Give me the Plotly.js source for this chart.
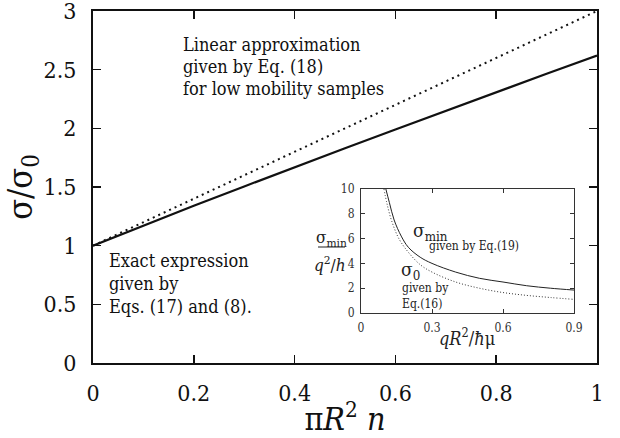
<!DOCTYPE html>
<html>
<head>
<meta charset="utf-8">
<script src="https://cdn.plot.ly/plotly-3.0.1.min.js"></script>
<style>html,body{margin:0;padding:0;background:#fff;}#chart{width:620px;height:438px;}</style>
</head>
<body>
<div id="chart"></div>
<script>
// ---- main panel data ----
const mainX = [0, 0.1, 0.2, 0.3, 0.4, 0.5, 0.6, 0.7, 0.8, 0.9, 1.0];
const exactY = [1, 1.172, 1.34, 1.505, 1.67, 1.83, 1.99, 2.15, 2.31, 2.465, 2.62];
const linearX = [0, 1];
const linearY = [1, 3];
const mainXTicks = [0, 0.2, 0.4, 0.6, 0.8, 1];
const mainXTickText = ['0', '0.2', '0.4', '0.6', '0.8', '1'];
const mainYTicks = [0, 0.5, 1, 1.5, 2, 2.5, 3];
const mainYTickText = ['0', '0.5', '1', '1.5', '2', '2.5', '3'];

// ---- inset data ----
const sigmaMinX = [0.105, 0.12, 0.14, 0.17, 0.2, 0.25, 0.3, 0.4, 0.5, 0.6, 0.7, 0.8, 0.9];
const sigmaMinY = [10, 8.9, 7.5, 6.2, 5.3, 4.5, 4.0, 3.3, 2.8, 2.5, 2.2, 2.0, 1.85];
const sigma0X = [0.097, 0.11, 0.13, 0.16, 0.2, 0.25, 0.3, 0.4, 0.5, 0.6, 0.7, 0.8, 0.9];
const sigma0Y = [10, 8.8, 7.4, 6.0, 4.9, 3.9, 3.3, 2.5, 2.0, 1.65, 1.42, 1.25, 1.1];
const insetXTicks = [0, 0.3, 0.6, 0.9];
const insetXTickText = ['0', '0.3', '0.6', '0.9'];
const insetYTicks = [0, 2, 4, 6, 8, 10];
const insetYTickText = ['0', '2', '4', '6', '8', '10'];

// ---- text ----
const linearLabel = ['Linear approximation', 'given by Eq. (18)', 'for low mobility samples'];
const exactLabel = ['Exact expression', 'given by', 'Eqs. (17) and (8).'];

const W = 620, H = 438;
const L = 93, R = 597, T = 11, B = 363;
const px = x => (x - L) / (R - L);
const py = y => (B - y) / (B - T);
const serif = 'DejaVu Serif Condensed';

const traces = [
  {x: linearX, y: linearY, mode: 'lines', line: {color: '#111', width: 2, dash: '2px,4px'}, xaxis: 'x', yaxis: 'y', hoverinfo: 'skip'},
  {x: mainX, y: exactY, mode: 'lines', line: {color: '#111', width: 2.2}, xaxis: 'x', yaxis: 'y', hoverinfo: 'skip'},
  {x: sigmaMinX, y: sigmaMinY, mode: 'lines', line: {color: '#222', width: 1, shape: 'spline'}, xaxis: 'x2', yaxis: 'y2', hoverinfo: 'skip'},
  {x: sigma0X, y: sigma0Y, mode: 'lines', line: {color: '#333', width: 1, dash: '1px,2px', shape: 'spline'}, xaxis: 'x2', yaxis: 'y2', hoverinfo: 'skip'}
];

const annotations = [];
linearLabel.forEach((t, i) => annotations.push({
  text: t, xref: 'paper', yref: 'paper', x: px(181), y: py(45 + 22 * i),
  xanchor: 'left', yanchor: 'middle', showarrow: false, font: {family: serif, size: 18, color: '#111'}
}));
exactLabel.forEach((t, i) => annotations.push({
  text: t, xref: 'paper', yref: 'paper', x: px(107), y: py(260 + 23 * i),
  xanchor: 'left', yanchor: 'middle', showarrow: false, font: {family: serif, size: 18, color: '#111'}
}));
// inset labels
annotations.push({text: 'σ<sub>min</sub>', xref: 'paper', yref: 'paper', x: px(411), y: py(231), xanchor: 'left', yanchor: 'middle', showarrow: false, font: {family: serif, size: 19, color: '#222'}});
annotations.push({text: 'given by Eq.(19)', xref: 'paper', yref: 'paper', x: px(427), y: py(246), xanchor: 'left', yanchor: 'middle', showarrow: false, font: {family: serif, size: 12, color: '#222'}});
annotations.push({text: 'σ<sub>0</sub>', xref: 'paper', yref: 'paper', x: px(399), y: py(270), xanchor: 'left', yanchor: 'middle', showarrow: false, font: {family: serif, size: 19, color: '#222'}});
annotations.push({text: 'given by', xref: 'paper', yref: 'paper', x: px(400), y: py(288), xanchor: 'left', yanchor: 'middle', showarrow: false, font: {family: serif, size: 12, color: '#222'}});
annotations.push({text: 'Eq.(16)', xref: 'paper', yref: 'paper', x: px(400), y: py(304), xanchor: 'left', yanchor: 'middle', showarrow: false, font: {family: serif, size: 12, color: '#222'}});
// inset y title (fraction)
annotations.push({text: 'σ<sub>min</sub>', xref: 'paper', yref: 'paper', x: px(331), y: py(238), xanchor: 'center', yanchor: 'middle', showarrow: false, font: {family: serif, size: 17, color: '#222'}});
annotations.push({text: '<i>q</i><sup>2</sup>/<i>h</i>', xref: 'paper', yref: 'paper', x: px(330), y: py(264), xanchor: 'center', yanchor: 'middle', showarrow: false, font: {family: serif, size: 17, color: '#222'}});
// inset x title
annotations.push({text: '<i>qR</i><sup>2</sup>/<i>ħ</i>μ', xref: 'paper', yref: 'paper', x: px(467), y: py(337), xanchor: 'center', yanchor: 'middle', showarrow: false, font: {family: serif, size: 18, color: '#222'}});

const shapes = [
  {type: 'line', xref: 'paper', yref: 'paper', x0: px(318), x1: px(345), y0: py(247), y1: py(247), line: {color: '#222', width: 1}}
];

const layout = {
  width: W, height: H,
  margin: {l: L, r: W - R, t: T, b: H - B, pad: 0},
  paper_bgcolor: '#fff', plot_bgcolor: 'rgba(0,0,0,0)',
  showlegend: false,
  font: {family: serif, color: '#111'},
  xaxis: {
    domain: [0, 1], range: [0, 1], tickvals: mainXTicks, ticktext: mainXTickText,
    showline: true, mirror: 'ticks', linecolor: '#111', linewidth: 2,
    ticks: 'inside', ticklen: 8, tickwidth: 1.5, tickcolor: '#111',
    showgrid: false, zeroline: false, ticklabelstandoff: 8, ticklabeloverflow: 'allow',
    tickfont: {family: serif, size: 23, color: '#111'},
    title: {text: 'π<i>R</i><sup>2</sup> <i>n</i>', font: {family: serif, size: 32, color: '#111'}, standoff: 2}
  },
  yaxis: {
    domain: [0, 1], range: [0, 3], tickvals: mainYTicks, ticktext: mainYTickText,
    showline: true, mirror: 'ticks', linecolor: '#111', linewidth: 2,
    ticks: 'inside', ticklen: 8, tickwidth: 1.5, tickcolor: '#111',
    showgrid: false, zeroline: false, ticklabelstandoff: 10, ticklabeloverflow: 'allow',
    tickfont: {family: serif, size: 23, color: '#111'},
    title: {text: 'σ/σ<sub>0</sub>', font: {family: serif, size: 34, color: '#111'}, standoff: 8}
  },
  xaxis2: {
    domain: [px(361), px(574)], range: [0, 0.9], anchor: 'y2', tickvals: insetXTicks, ticktext: insetXTickText,
    showline: true, mirror: 'ticks', linecolor: '#333', linewidth: 1,
    ticks: 'inside', ticklen: 4, tickwidth: 1, tickcolor: '#333',
    showgrid: false, zeroline: false, ticklabelstandoff: 4,
    tickfont: {family: serif, size: 12, color: '#333'}
  },
  yaxis2: {
    domain: [py(313), py(189)], range: [0, 10], anchor: 'x2', tickvals: insetYTicks, ticktext: insetYTickText,
    showline: true, mirror: 'ticks', linecolor: '#333', linewidth: 1,
    ticks: 'inside', ticklen: 4, tickwidth: 1, tickcolor: '#333',
    showgrid: false, zeroline: false, ticklabelstandoff: 3,
    tickfont: {family: serif, size: 12, color: '#333'}
  },
  annotations: annotations,
  shapes: shapes
};

Plotly.newPlot('chart', traces, layout, {staticPlot: true, displayModeBar: false});
</script>
</body>
</html>
